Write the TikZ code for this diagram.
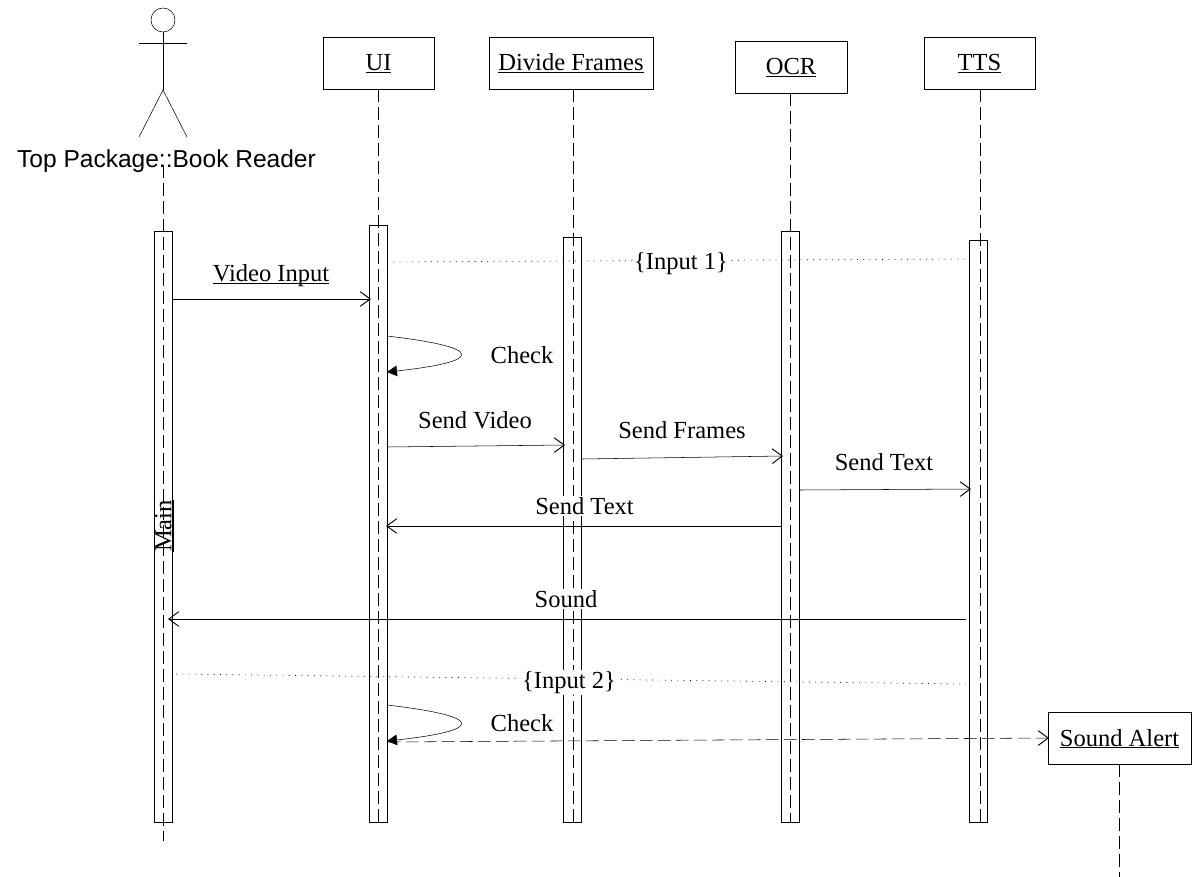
\documentclass[tikz,border=0pt]{standalone}
\usepackage{fontspec}
\setmainfont{Liberation Serif}
\newfontfamily\arialfont{Liberation Sans}
\usetikzlibrary{arrows.meta}
\tikzset{
  x=0.75pt,y=-0.75pt,
  line width=0.75pt,
  objbox/.style={draw,fill=white,minimum height=39pt,inner sep=0pt,text height=14pt,text depth=2pt,font=\fontsize{18.4}{22}\selectfont},
  actbar/.style={draw,minimum width=13.5pt,inner sep=0pt},
  lifeline/.style={dash pattern=on 9.5pt off 4pt,line width=0.6pt},
  msg/.style={-{Straight Barb[length=7.5pt,width=11pt,line width=0.7pt]}},
  selfmsg/.style={-{Triangle[length=7.5pt,width=8pt]}},
  dotline/.style={line width=0.5pt,dash pattern=on 0.7pt off 4pt},
  lbl/.style={fill=white,inner sep=1pt,font=\fontsize{18.4}{22}\selectfont},
  plainlbl/.style={inner sep=1pt,font=\fontsize{18.4}{22}\selectfont},
}
\newsavebox{\ulbox}
\newcommand{\ul}[1]{\sbox{\ulbox}{#1}\leavevmode\rlap{\rule[-1.7pt]{\wd\ulbox}{0.7pt}}\usebox{\ulbox}}
\begin{document}
\begin{tikzpicture}
\useasboundingbox (0,0) rectangle (1199,877);
% objects
\node[objbox,minimum width=83.25pt] (ui) at (378.5,63) {\ul{UI}};
\node[objbox,minimum width=123pt] (div) at (571,63) {\ul{Divide Frames}};
\node[objbox,minimum width=84pt] (ocr) at (791,67) {\ul{OCR}};
\node[objbox,minimum width=83.25pt] (tts) at (979.5,63) {\ul{TTS}};
\node[objbox,minimum width=107.25pt] (alert) at (1119.5,738) {\ul{Sound Alert}};
% activation bars
\node[actbar,minimum height=443.25pt] (amain) at (163,526.5) {};
\node[actbar,minimum height=447.75pt] (aui) at (378,523.5) {};
\node[actbar,minimum height=438.75pt] (adiv) at (572.5,529.5) {};
\node[actbar,minimum height=443.25pt] (aocr) at (790.5,526.5) {};
\node[actbar,minimum height=436.5pt] (atts) at (978.5,531) {};
% actor
\node[draw,circle,minimum size=18pt,inner sep=0pt] (head) at (163,20) {};
\coordinate (armL) at (139,43);
\coordinate (armR) at (187,43);
\coordinate (hip) at (163,90);
\coordinate (legL) at (139,137);
\coordinate (legR) at (187,137);
\draw (armL) -- (armR);
\draw (head.south) -- (hip);
\draw (legL) -- (hip) -- (legR);
\node[inner sep=0pt,font=\arialfont\fontsize{18.4}{22}\selectfont] (actorname) at (166.5,161) {Top Package::Book Reader};
% lifelines
\coordinate (mainTop) at (163,165);
\coordinate (mainEnd) at (163,841);
\coordinate (uiEnd) at (378,822);
\coordinate (divEnd) at (573,822);
\coordinate (ocrEnd) at (790,822);
\coordinate (ttsEnd) at (980,822);
\coordinate (alertEnd) at (1119,877);
\draw[lifeline] (mainTop) -- (mainEnd);
\draw[lifeline] (ui.south -| uiEnd) -- (uiEnd);
\draw[lifeline] (div.south -| divEnd) -- (divEnd);
\draw[lifeline] (ocr.south -| ocrEnd) -- (ocrEnd);
\draw[lifeline] (tts.south -| ttsEnd) -- (ttsEnd);
\draw[lifeline] (alert.south -| alertEnd) -- (alertEnd);
% anchors on bars
\coordinate (m1a) at (172,299); \coordinate (m1b) at (371,299);
\coordinate (c1a) at (387,336); \coordinate (c1b) at (387,372);
\coordinate (m2a) at (387,447); \coordinate (m2b) at (565,445);
\coordinate (m3a) at (582,459); \coordinate (m3b) at (783,456);
\coordinate (m4a) at (800,490); \coordinate (m4b) at (971,489);
\coordinate (m5a) at (781,526); \coordinate (m5b) at (386,526);
\coordinate (m6a) at (966,619); \coordinate (m6b) at (168,619);
\coordinate (d1a) at (387,262); \coordinate (d1b) at (969,259);
\coordinate (d2a) at (176,674); \coordinate (d2b) at (966,684);
\coordinate (c2a) at (387,705); \coordinate (c2b) at (387,741);
\coordinate (m7a) at (388,742);
\coordinate (m7b) at (1049,738);
% messages
\draw[msg] (m1a) -- (m1b);
\draw[selfmsg] (c1a) .. controls (490,348) and (480,362) .. (c1b);
\draw[msg] (m2a) -- (m2b);
\draw[msg] (m3a) -- (m3b);
\draw[msg] (m4a) -- (m4b);
\draw[msg] (m5a) -- (m5b);
\draw[msg] (m6a) -- (m6b);
\draw[dotline] (d1a) -- (d1b);
\draw[dotline] (d2a) -- (d2b);
\draw[selfmsg] (c2a) .. controls (490,717) and (480,731) .. (c2b);
\draw[msg,dash pattern=on 9.5pt off 4pt] (m7a) -- (m7b);
% labels
\node[plainlbl] (lmain) at (164.5,526) {\rotatebox{90}{\ul{Main}}};
\node[plainlbl] (l1) at (271,275.5) {\ul{Video Input}};
\node[plainlbl] (l2) at (522,355) {Check};
\node[plainlbl] (l3) at (475,420) {Send Video};
\node[plainlbl] (l4) at (682,430) {Send Frames};
\node[plainlbl] (l5) at (884,462) {Send Text};
\node[lbl] (l6) at (584.5,506) {Send Text};
\node[lbl] (l7) at (566,599) {Sound};
\node[lbl] (l8) at (681,263.5) {\{Input 1\}};
\node[lbl] (l9) at (569,682.5) {\{Input 2\}};
\node[plainlbl] (l10) at (522,723) {Check};
\end{tikzpicture}
\end{document}
